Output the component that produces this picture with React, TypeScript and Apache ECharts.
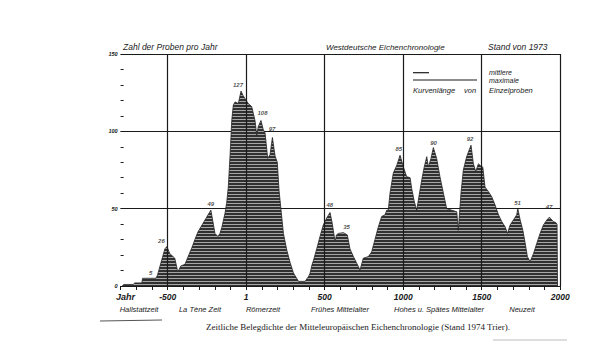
import React, { useEffect, useRef } from 'react';
import * as echarts from 'echarts';

// Sample counts per year
const years = [
  -790, -780, -720, -710, -665, -660, -575, -565, -557, -532, -518, -505, -487, -455, -442, -436,
  -416, -390, -370, -347, -327, -307, -275, -243, -225, -211, -199, -180, -167, -155, -135, -124,
  -114, -103, -92, -82, -71, -50, -33, -19, 0, 13, 35, 56, 67, 77, 94, 109, 120, 137, 152, 167,
  184, 198, 209, 222, 237, 259, 280, 301, 333, 375, 396, 406, 420, 427, 449, 470, 491, 513, 534,
  548, 566, 575, 587, 619, 644, 661, 683, 704, 725, 746, 778, 799, 820, 841, 863, 884, 895, 905,
  916, 937, 959, 980, 1001, 1022, 1044, 1054, 1071, 1086, 1100, 1118, 1134, 1150, 1160, 1177,
  1192, 1213, 1234, 1256, 1277, 1309, 1341, 1351, 1368, 1383, 1404, 1432, 1447, 1462, 1479, 1500,
  1507, 1521, 1543, 1564, 1585, 1607, 1628, 1649, 1664, 1681, 1702, 1723, 1730, 1745, 1762, 1777,
  1791, 1808, 1830, 1851, 1872, 1893, 1915, 1931, 1957, 1972, 1980, 1983,
];
const counts = [
  0, 1, 1, 2, 2, 5, 5, 7, 10, 19, 24, 25.5, 21, 18, 12, 9,
  13, 14, 19, 24.5, 30, 35, 40.5, 46, 49, 41, 34, 32, 34, 38, 47, 54,
  64, 84, 107, 117, 119, 118, 126, 123, 120, 118, 116, 107, 97.6, 103, 107, 101, 99, 82.5, 85, 96,
  84, 80, 62, 49, 34, 23, 15, 8.4, 3, 3, 6, 8, 14, 16, 24, 32, 39.4, 44, 47.5,
  40.5, 28.6, 33, 34, 34.5, 33, 24, 19, 14.7, 10.3, 18, 19, 22, 30, 38, 45, 46, 49, 49,
  60, 73, 78, 84.5, 77, 70.7, 70, 63, 54.5, 49, 57.7, 68.5, 77, 83.6, 77, 82.5,
  89.5, 82.5, 70.7, 60, 50, 49, 48, 36, 60, 75, 83.6, 91, 79, 74, 79, 77,
  77, 64, 61, 57.7, 52.4, 46, 41.6, 38.3, 34, 39.4, 42.7, 46, 50, 42.7, 36, 27.6,
  19, 15.7, 21, 27.6, 34, 39.4, 42.7, 44.5, 41.6, 41, 40, 0,
];

// Peak annotations (label anchor in data units)
const peakYears = [-608, -540, -225, -52, 104, 165, 533, 639, 972, 1193, 1426, 1728, 1929];
const peakValues = [8.4, 29, 52.8, 130, 112, 101.5, 52.4, 38, 88.4, 92.6, 94.8, 53.8, 51.3];
const peakTexts = ['5', '26', '49', '127', '108', '97', '48', '35', '85', '90', '92', '51', '47'];

const gridYears = [-500, 0, 500, 1000, 1500, 2000];
const yLabelValues = [0, 50, 100, 150];

const periodNames = ['Hallstattzeit', 'La Tène Zeit', 'Römerzeit', 'Frühes Mittelalter', 'Hohes u. Spätes Mittelalter', 'Neuzeit'];
const periodX = [139, 200, 263, 340, 439, 522];

const FONT = '"Liberation Sans", Arial, sans-serif';
const INK = '#1a1a1a';

export default function App() {
  const ref = useRef<HTMLDivElement>(null);
  useEffect(() => {
    if (!ref.current) return;
    const chart = echarts.init(ref.current, null, { renderer: 'svg' });

    const cv = document.createElement('canvas');
    cv.width = 4;
    cv.height = 3;
    const ctx = cv.getContext('2d')!;
    ctx.fillStyle = '#303030';
    ctx.fillRect(0, 0, 4, 2);
    ctx.fillStyle = '#a6a6a6';
    ctx.fillRect(0, 2, 4, 1);

    const txt = (x: number, y: number, text: string, size: number, extra: any = {}, weight = 'normal') => ({
      type: 'text',
      x,
      y,
      style: {
        text,
        fill: INK,
        font: `italic ${weight} ${size}px ${FONT}`,
        textVerticalAlign: 'middle',
        ...extra,
      },
    });

    chart.setOption({
      animation: false,
      backgroundColor: '#ffffff',
      grid: { left: 120.6, right: 40.8, top: 54, bottom: 78 },
      xAxis: {
        type: 'value',
        min: -800,
        max: 2000,
        interval: 100,
        axisLine: { show: true, lineStyle: { color: INK, width: 1.2 } },
        axisTick: { show: true, length: 4, lineStyle: { color: INK, width: 1 } },
        axisLabel: {
          interval: 0,
          margin: 6,
          color: INK,
          fontStyle: 'italic',
          fontWeight: 'bold',
          fontFamily: FONT,
          fontSize: 8.5,
          formatter: (v: number) => {
            if (v === -800) return '';
            if (v === 0) return '1';
            return v % 500 === 0 ? String(v) : '';
          },
        },
        splitLine: { show: false },
      },
      yAxis: [
        {
          type: 'value',
          min: 0,
          max: 150,
          interval: 50,
          axisLine: { show: false },
          axisTick: { show: false },
          axisLabel: {
            color: INK,
            fontStyle: 'italic',
            fontWeight: 'bold',
            fontFamily: FONT,
            fontSize: 5.5,
            margin: 3,
            formatter: (v: number) => (yLabelValues.includes(v) ? String(v) : ''),
          },
          splitLine: { show: true, lineStyle: { color: INK, width: 1.2 } },
        },
        {
          type: 'value',
          min: 0,
          max: 150,
          interval: 10,
          position: 'left',
          axisLine: { show: false },
          axisTick: { show: true, inside: true, length: 3, lineStyle: { color: INK, width: 1 } },
          axisLabel: { show: false },
          splitLine: { show: false },
        },
      ],
      series: [
        {
          type: 'line',
          data: years.map((y, i) => [y, counts[i]]),
          showSymbol: false,
          symbol: 'none',
          lineStyle: { color: '#222222', width: 0.8 },
          areaStyle: { color: { image: cv, repeat: 'repeat' }, opacity: 1 },
          markLine: {
            silent: true,
            symbol: 'none',
            label: { show: false },
            lineStyle: { color: INK, width: 1.2, type: 'solid' },
            data: gridYears.map((g) => ({ xAxis: g })),
          },
          z: 2,
        },
        {
          type: 'scatter',
          data: peakYears.map((y, i) => [y, peakValues[i]]),
          symbolSize: 0,
          itemStyle: { color: INK },
          label: {
            show: true,
            position: 'inside',
            color: INK,
            fontStyle: 'italic',
            fontWeight: 'bold',
            fontFamily: FONT,
            fontSize: 6,
            formatter: (p: any) => peakTexts[p.dataIndex],
          },
          z: 5,
        },
      ],
      graphic: [
        txt(123, 47, 'Zahl der Proben pro Jahr', 8.5),
        txt(326, 47, 'Westdeutsche Eichenchronologie', 8),
        txt(488, 47, 'Stand von 1973', 8.5),
        { type: 'line', shape: { x1: 413, y1: 72.7, x2: 429, y2: 72.7 }, style: { stroke: INK, lineWidth: 1.2 } },
        { type: 'line', shape: { x1: 413, y1: 80, x2: 477, y2: 80 }, style: { stroke: INK, lineWidth: 1.2 } },
        txt(489, 72.2, 'mittlere', 7, { width: 40 }),
        txt(489, 80.2, 'maximale', 7),
        txt(413, 90, 'Kurvenlänge', 7.5),
        txt(464, 90, 'von', 7.5),
        txt(489, 90, 'Einzelproben', 7.5),
        txt(116, 297, 'Jahr', 9, {}, 'bold'),
        ...periodNames.map((n, i) => txt(periodX[i], 309, n, 7.5, { textAlign: 'center' })),
        {
          type: 'text',
          x: 358,
          y: 327,
          style: {
            text: 'Zeitliche Belegdichte der Mitteleuropäischen Eichenchronologie (Stand 1974 Trier).',
            fill: INK,
            font: `9px "Liberation Serif", "DejaVu Serif", serif`,
            textAlign: 'center',
            textVerticalAlign: 'middle',
          },
        },
        { type: 'line', shape: { x1: 100, y1: 321, x2: 162, y2: 320 }, style: { stroke: '#555', lineWidth: 1 } },
        { type: 'line', shape: { x1: 493, y1: 340, x2: 567, y2: 340 }, style: { stroke: '#bbb', lineWidth: 1 } },
      ],
    });
    return () => chart.dispose();
  }, []);
  return <div ref={ref} style={{ width: 601, height: 364, position: 'absolute', left: 0, top: 0 }} />;
}
